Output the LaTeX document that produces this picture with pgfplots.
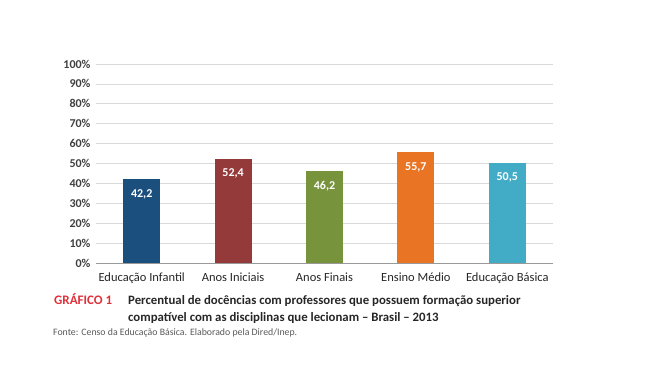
\documentclass[border=0pt]{standalone}
\usepackage{pgfplots}
\pgfplotsset{compat=1.18}
\usepackage{fontspec}
\setmainfont{Carlito}
\definecolor{cblue}{HTML}{1B4F7E}
\definecolor{cred}{HTML}{953A3A}
\definecolor{cgreen}{HTML}{77933C}
\definecolor{corange}{HTML}{E87424}
\definecolor{ccyan}{HTML}{42ACC6}
\definecolor{tickgray}{HTML}{404040}
\definecolor{gridgray}{HTML}{D9D9D9}
\definecolor{capred}{HTML}{E0303A}
\begin{document}
\begin{tikzpicture}[x=1bp,y=1bp]
\useasboundingbox (-96,-128) rectangle (551,263);
\begin{axis}[
  at={(0,0)}, anchor=south west,
  scale only axis, width=457bp, height=199bp,
  xmin=-0.5, xmax=4.5, ymin=0, ymax=100,
  axis x line*=bottom, axis y line*=left,
  y axis line style={draw=none},
  x axis line style={draw=gray!80, line width=0.8pt, -},
  ytick={0,10,...,100},
  yticklabel={\pgfmathprintnumber{\tick}\%},
  yticklabel style={font=\fontsize{12bp}{14bp}\selectfont\bfseries, text=tickgray, xshift=-2bp},
  ytick style={draw=none},
  ymajorgrids, grid style={gridgray, line width=0.8pt},
  xtick={0,1,2,3,4},
  xticklabels={Educação Infantil, Anos Iniciais, Anos Finais, Ensino Médio, Educação Básica},
  xticklabel style={font=\fontsize{12.5bp}{14bp}\selectfont, text=black!85, yshift=-2bp},
  xtick style={draw=none},
  extra x ticks={-0.5,0.5,1.5,2.5,3.5,4.5},
  extra x tick labels={},
  extra x tick style={tick align=outside, major tick length=4bp, tick style={draw=gray!80, line width=0.8pt}, grid=none},
  /pgf/number format/assume math mode=true,
  bar width=37bp,
  ybar, bar shift=0pt,
  nodes near coords,
  nodes near coords style={font=\fontsize{12bp}{14bp}\selectfont\bfseries, text=white, anchor=north, inner sep=2bp, yshift=-8bp, /pgf/number format/.cd, use comma, fixed, fixed zerofill, precision=1, assume math mode=true},
  clip=false,
]
\addplot[fill=cblue, draw=none] coordinates {(0,42.2)};
\addplot[fill=cred, draw=none] coordinates {(1,52.4)};
\addplot[fill=cgreen, draw=none] coordinates {(2,46.2)};
\addplot[fill=corange, draw=none] coordinates {(3,55.7)};
\addplot[fill=ccyan, draw=none] coordinates {(4,50.5)};
\end{axis}
\node[anchor=base west, text=capred, font=\fontsize{13bp}{15bp}\selectfont\bfseries, inner sep=0] at (-42,-41) {GRÁFICO 1};
\node[anchor=base west, font=\fontsize{12.8bp}{15bp}\selectfont\bfseries, inner sep=0, text=black!85] at (32,-41) {Percentual de docências com professores que possuem formação superior};
\node[anchor=base west, font=\fontsize{12.8bp}{15bp}\selectfont\bfseries, inner sep=0, text=black!85] at (32,-58) {compatível com as disciplinas que lecionam -- Brasil -- 2013};
\node[anchor=base west, font=\fontsize{9.8bp}{11bp}\selectfont, inner sep=0, text=black!65] at (-43,-72) {Fonte: Censo da Educação Básica. Elaborado pela Dired/Inep.};
\end{tikzpicture}
\end{document}
